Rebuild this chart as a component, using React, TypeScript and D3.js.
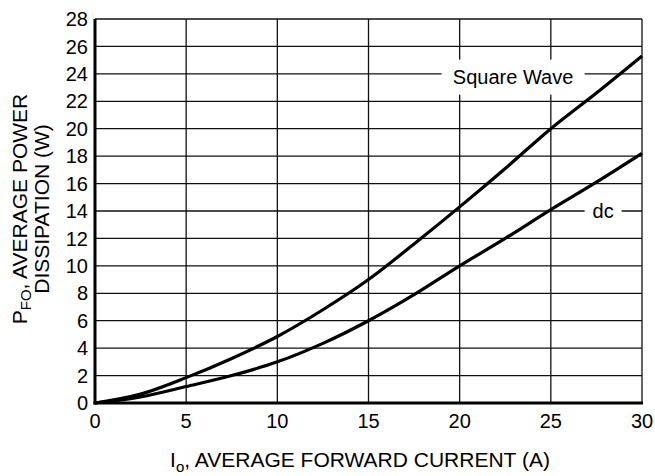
import { useEffect, useRef } from "react"
import * as d3 from "d3"

// Average forward current (A)
const current = [0, 2.5, 5, 7.5, 10, 12.5, 15, 17.5, 20, 22.5, 25, 27.5, 30]
// Average power dissipation (W)
const squareWave = [0, 0.65, 1.85, 3.25, 4.85, 6.8, 9.0, 11.6, 14.3, 17.1, 20.0, 22.6, 25.3]
const dc = [0, 0.45, 1.2, 2.0, 3.0, 4.35, 6.0, 7.9, 10.0, 12.0, 14.1, 16.1, 18.2]

const xTicks = [0, 5, 10, 15, 20, 25, 30]
const yTicks = [0, 2, 4, 6, 8, 10, 12, 14, 16, 18, 20, 22, 24, 26, 28]

const labels = [
  { text: "Square Wave", x: 22.93, y: 23.8, w: 143 },
  { text: "dc", x: 27.87, y: 14, w: 37 },
]

const W = 655
const H = 476
const FONT = "Liberation Sans, Arial, Helvetica, sans-serif"

export default function App() {
  const svgRef = useRef<SVGSVGElement>(null)

  useEffect(() => {
    if (!svgRef.current) return
    const svg = d3.select(svgRef.current)
    svg.selectAll("*").remove()

    const margin = { top: 19, right: 13, bottom: 73, left: 95 }
    const width = W - margin.left - margin.right
    const height = H - margin.top - margin.bottom

    const g = svg.append("g").attr("transform", `translate(${margin.left},${margin.top})`)

    const x = d3.scaleLinear().domain([0, 30]).range([0, width])
    const y = d3.scaleLinear().domain([0, 28]).range([height, 0])

    // grid
    g.append("g")
      .selectAll("line")
      .data(yTicks)
      .enter()
      .append("line")
      .attr("x1", 0)
      .attr("x2", width)
      .attr("y1", (d) => y(d))
      .attr("y2", (d) => y(d))
      .attr("stroke", "#111")
      .attr("stroke-width", 1.3)

    g.append("g")
      .selectAll("line")
      .data(xTicks)
      .enter()
      .append("line")
      .attr("y1", 0)
      .attr("y2", height)
      .attr("x1", (d) => x(d))
      .attr("x2", (d) => x(d))
      .attr("stroke", "#111")
      .attr("stroke-width", 1.3)

    // label boxes
    const lab = g.append("g")
    labels.forEach((l) => {
      lab.append("rect")
        .attr("x", x(l.x) - l.w / 2)
        .attr("y", y(l.y) - 17)
        .attr("width", l.w)
        .attr("height", 35)
        .attr("fill", "white")
      lab.append("text")
        .attr("x", x(l.x))
        .attr("y", y(l.y))
        .attr("dy", "0.36em")
        .attr("text-anchor", "middle")
        .style("font-family", FONT)
        .style("font-size", "20px")
        .text(l.text)
    })

    // curves
    const line = d3
      .line<number>()
      .x((_, i) => x(current[i]))
      .y((d) => y(d))
      .curve(d3.curveMonotoneX)

    ;[squareWave, dc].forEach((s) => {
      g.append("path")
        .datum(s)
        .attr("fill", "none")
        .attr("stroke", "black")
        .attr("stroke-width", 3.2)
        .attr("d", line)
    })

    // main axes
    g.append("line")
      .attr("x1", 0).attr("x2", 0).attr("y1", 0).attr("y2", height + 1.5)
      .attr("stroke", "black").attr("stroke-width", 3)
    g.append("line")
      .attr("x1", -1.5).attr("x2", width + 1).attr("y1", height).attr("y2", height)
      .attr("stroke", "black").attr("stroke-width", 3)

    // tick labels
    g.append("g")
      .selectAll("text")
      .data(xTicks)
      .enter()
      .append("text")
      .attr("x", (d) => x(d))
      .attr("y", height + 25)
      .attr("text-anchor", "middle")
      .style("font-family", FONT)
      .style("font-size", "20px")
      .text((d) => d)

    g.append("g")
      .selectAll("text")
      .data(yTicks)
      .enter()
      .append("text")
      .attr("x", -7)
      .attr("y", (d) => y(d))
      .attr("dy", "0.36em")
      .attr("text-anchor", "end")
      .style("font-family", FONT)
      .style("font-size", "20px")
      .text((d) => d)

    // axis titles
    const xt = svg.append("text")
      .attr("x", 360)
      .attr("y", 467)
      .attr("text-anchor", "middle")
      .style("font-family", FONT)
      .style("font-size", "21px")
    xt.append("tspan").text("I")
    xt.append("tspan").attr("dy", 5).style("font-size", "15px").text("o")
    xt.append("tspan").attr("dy", -5).text(", AVERAGE FORWARD CURRENT (A)")

    const cy = 209
    const yt = svg.append("text")
      .attr("transform", `translate(27,${cy}) rotate(-90)`)
      .attr("text-anchor", "middle")
      .style("font-family", FONT)
      .style("font-size", "21px")
    yt.append("tspan").text("P")
    yt.append("tspan").attr("dy", 4).style("font-size", "15px").text("FO")
    yt.append("tspan").attr("dy", -4).text(", AVERAGE POWER")

    svg.append("text")
      .attr("transform", `translate(48.5,${cy}) rotate(-90)`)
      .attr("text-anchor", "middle")
      .style("font-family", FONT)
      .style("font-size", "21px")
      .text("DISSIPATION (W)")
  }, [])

  return (
    <svg
      ref={svgRef}
      width={W}
      height={H}
      style={{ position: "absolute", left: 0, top: 0, background: "white" }}
    />
  )
}
